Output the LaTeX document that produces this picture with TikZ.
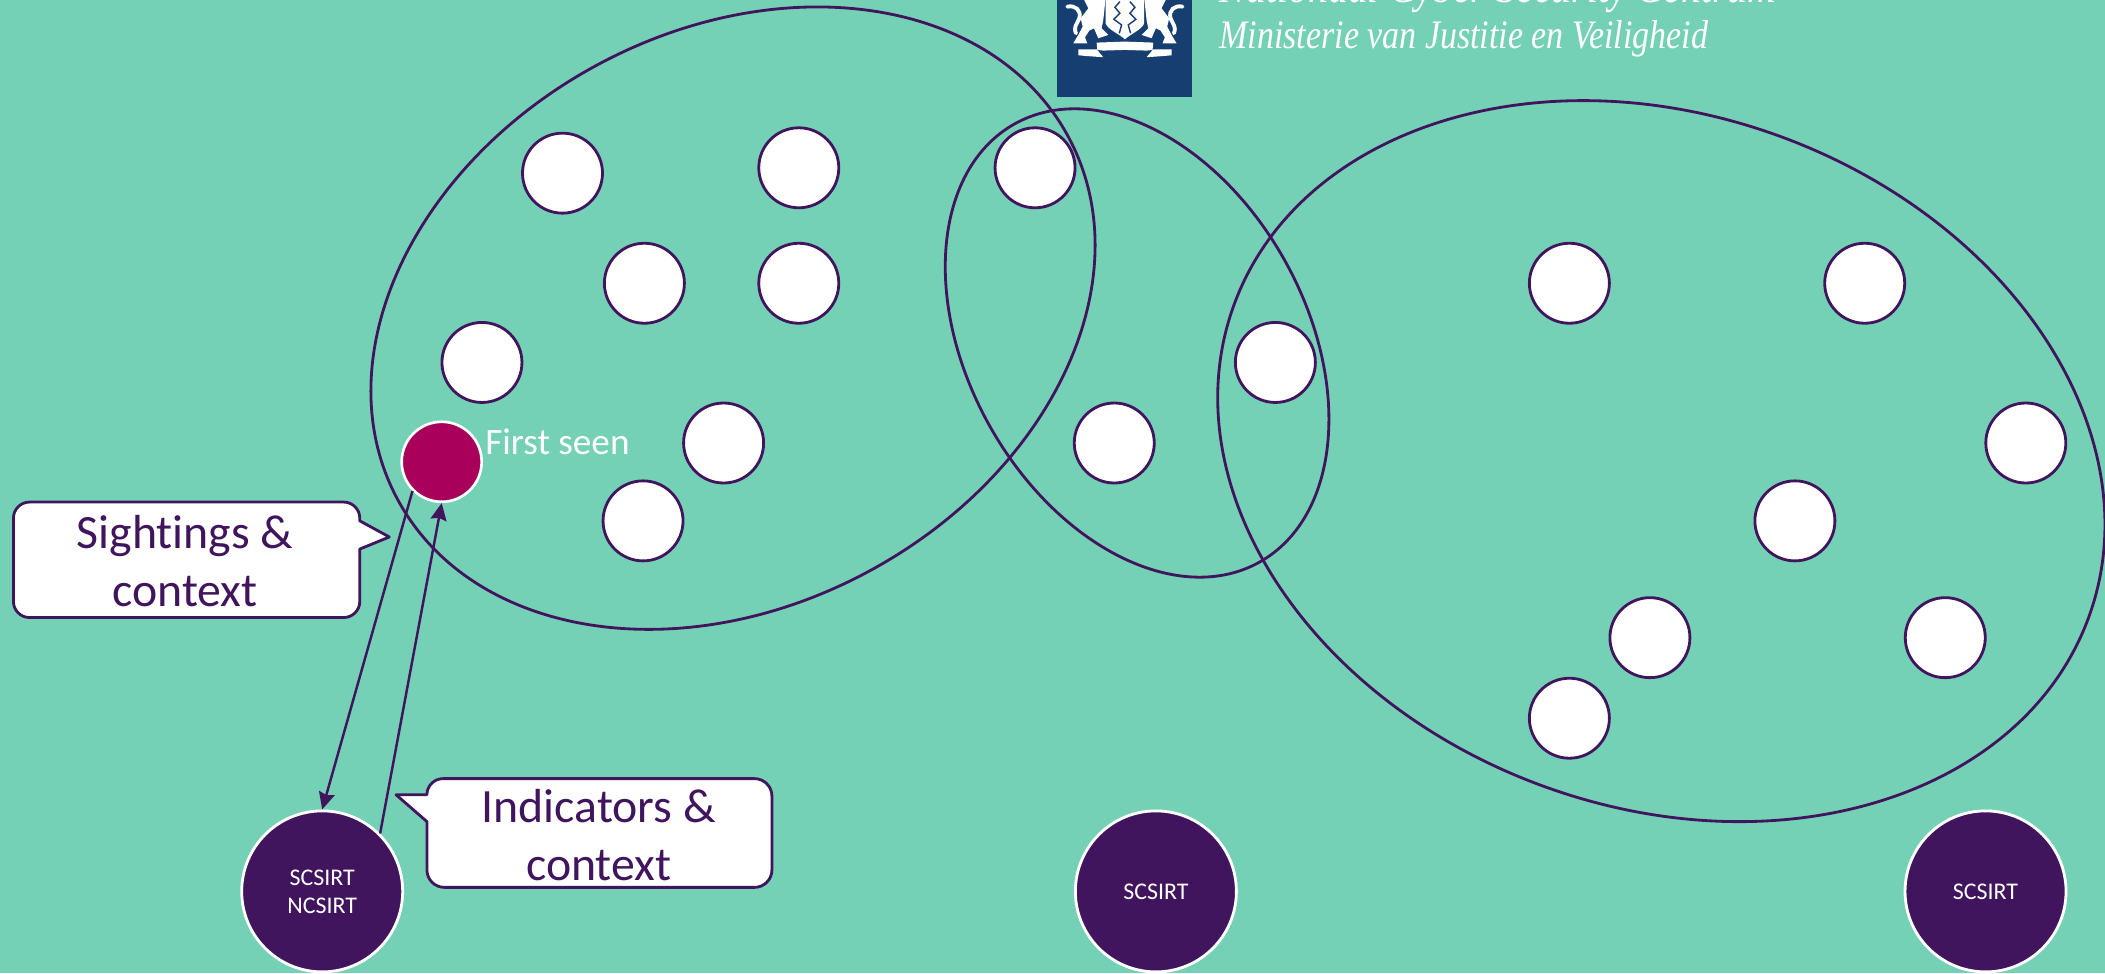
\documentclass[tikz,border=0pt]{standalone}
\usepackage{fontspec}
\setmainfont[Ligatures=CommonOff]{Carlito}
\newfontfamily\logofont{Liberation Serif}
\usetikzlibrary{shapes.geometric,arrows.meta}
\definecolor{bgc}{HTML}{75D1B6}
\definecolor{purp}{HTML}{41155E}
\definecolor{mag}{HTML}{A9005C}
\definecolor{navy}{HTML}{173E70}
\tikzset{
 x=0.13425mm,y=-0.13425mm,
 org/.style={ellipse,draw=purp,line width=0.8pt,inner sep=0pt},
 member/.style={circle,draw=purp,fill=white,line width=0.8pt,minimum size=8mm,inner sep=0pt},
 firstseen/.style={circle,draw=white,fill=mag,line width=0.75pt,minimum size=8mm,inner sep=0pt},
 csirt/.style={circle,draw=white,fill=purp,text=white,line width=0.8pt,minimum size=16.1mm,inner sep=0pt,align=center,font=\fontsize{6.8}{8}\selectfont},
 flow/.style={draw=purp,line width=0.7pt,-{Stealth[length=1.7mm,width=1.6mm,inset=0.2mm]}},
 callout/.style={draw=purp,fill=white,line width=0.8pt,line join=round},
 calltext/.style={text=purp,align=center,font=\fontsize{13.6}{16.6}\selectfont,inner sep=0pt},
 logotext/.style={text=white,anchor=base west,inner sep=0pt,xscale=0.84},
}
\begin{document}
\begin{tikzpicture}
\fill[bgc] (0,0) rectangle (1568,725);
\useasboundingbox (0,0) rectangle (1568,725);
\clip (0,0) rectangle (1568,725);
% logo
\fill[navy] (787,-2) rectangle (888,72);
\begin{scope}[shift={(774.7,0)},x=0.0333mm,y=-0.0333mm]
 \foreach \mirror/\off in {1/0,-1/-510}{
 \begin{scope}[xscale=\mirror,shift={(\off,0)}]
  % half shield
  \fill[white] (255,-5) -- (197,-5) -- (197,70) .. controls (205,90) and (235,100) .. (255,118) -- cycle;
  % lion body
  \fill[white] (130,-5) -- (197,-5) -- (190,60) -- (185,85) -- (205,105) -- (175,115) -- (162,85) -- (148,92) -- (135,112) -- (142,130) -- (100,130) -- (115,105) -- (128,80) -- (122,55) -- (145,25) -- cycle;
  % tail
  \draw[white,line width=1.1pt,line cap=round] (82,20) .. controls (105,15) and (125,30) .. (118,55) .. controls (110,75) and (100,80) .. (108,100);
  % scroll end
  \fill[white] (115,148) -- (170,148) -- (190,172) -- (135,168) -- (115,166) -- cycle;
  % scroll
  \fill[white] (170,128) -- (255,125) -- (255,150) -- (190,152) -- (172,150) -- cycle;
  % shield charge
  \draw[navy,line width=0.4pt] (240,5) -- (225,22) -- (240,40) -- (222,58) -- (245,75) -- (238,100);
 \end{scope}}
\end{scope}
\node[logotext,font=\logofont\itshape\fontsize{13.5}{14}\selectfont] (natl) at (908,2) {Nationaal Cyber Security Centrum};
\node[logotext,font=\logofont\itshape\fontsize{11.5}{14}\selectfont] (min) at (908,36) {Ministerie van Justitie en Veiligheid};
% groups
\node[org,minimum width=7.625cm,minimum height=5.746cm,rotate=28.5] (g1) at (546,237) {};
\node[org,minimum width=5.02cm,minimum height=3.383cm,rotate=-60.8] (g2) at (847,255.5) {};
\node[org,minimum width=9.10cm,minimum height=6.916cm,rotate=-20.1] (g3) at (1237.5,343.5) {};
% members
\foreach \n/\px/\py in {a/419/129,b/595/125,c/480/211,d/595/211,e/359/270,f/539/330,g/479/388,h/771/125,i/950/270,j/830/330,k/1169/211,l/1389/211,m/1509/330,n/1337/388,o/1229/475,p/1449/475,q/1169/535}
  \node[member] (\n) at (\px,\py) {};
\node[firstseen] (fs) at (329,344) {};
\node[text=white,font=\fontsize{10.6}{12}\selectfont,anchor=west,inner sep=0pt] (fslabel) at (361,329) {First seen};
% CSIRTs
\node[csirt] (s1) at (240,664) {SCSIRT\\NCSIRT};
\node[csirt] (s2) at (861,664) {SCSIRT};
\node[csirt] (s3) at (1479,664) {SCSIRT};
% flows
\draw[flow] (fs.225) -- (s1.90);
\draw[flow] (s1.45) -- (fs.270);
% callouts
\draw[callout] (22,374) -- (256,374) arc[start angle=-90,end angle=0,radius=12] -- (268,388) -- (290,400) -- (268,409) -- (268,448) arc[start angle=0,end angle=90,radius=12] -- (22,460) arc[start angle=90,end angle=180,radius=12] -- (10,386) arc[start angle=180,end angle=270,radius=12] -- cycle;
\node[calltext] (t1) at (138,418) {Sightings \&\\context};
\draw[callout] (331,580) -- (562,580) arc[start angle=-90,end angle=0,radius=13] -- (575,648) arc[start angle=0,end angle=90,radius=13] -- (331,661) arc[start angle=90,end angle=180,radius=13] -- (318,612) -- (295,592) -- (318,592) arc[start angle=180,end angle=270,radius=12] -- cycle;
\node[calltext] (t2) at (446,622) {Indicators \&\\context};
\end{tikzpicture}
\end{document}
